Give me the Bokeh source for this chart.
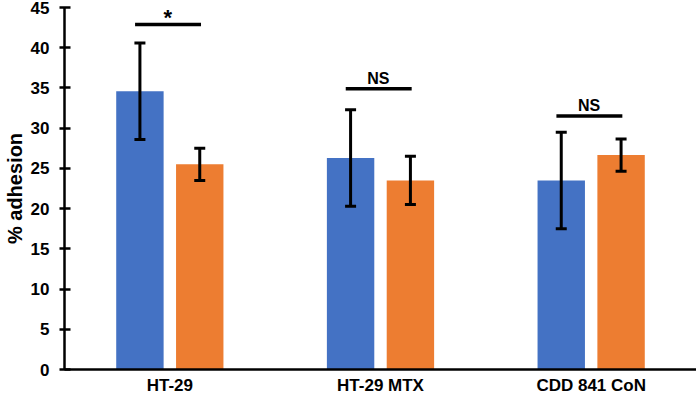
from bokeh.plotting import figure
from bokeh.models import FactorRange, ColumnDataSource, Whisker, TeeHead
from bokeh.transform import dodge
from bokeh.embed import file_html
from bokeh.resources import INLINE
from bokeh.core.properties import value

categories = ["HT-29", "HT-29 MTX", "CDD 841 CoN"]
series_a = [34.6, 26.3, 23.5]
series_a_err = [6.0, 6.0, 6.0]
series_b = [25.5, 23.5, 26.65]
series_b_err = [2.0, 3.0, 2.0]
sig_labels = ["*", "NS", "NS"]
sig_heights = [42.9, 34.9, 31.5]
y_ticks = [0, 5, 10, 15, 20, 25, 30, 35, 40, 45]

FONT = "Liberation Sans"
BLUE = "#4472C4"
ORANGE = "#ED7D31"
OFF = 0.142
BW = 0.225

src = ColumnDataSource(dict(
    cat=categories,
    a=series_a,
    a_up=[v + e for v, e in zip(series_a, series_a_err)],
    a_lo=[v - e for v, e in zip(series_a, series_a_err)],
    b=series_b,
    b_up=[v + e for v, e in zip(series_b, series_b_err)],
    b_lo=[v - e for v, e in zip(series_b, series_b_err)],
    sig=sig_labels,
    sh=sig_heights,
    fs=["22px" if s == "*" else "16px" for s in sig_labels],
    yo=[6 if s == "*" else -2 for s in sig_labels],
))

p = figure(width=696, height=397, x_range=FactorRange(factors=categories, range_padding=0),
           y_range=(0, 45), output_backend="svg", toolbar_location=None,
           min_border_left=0, min_border_right=0, min_border_top=7, min_border_bottom=0)
p.outline_line_color = None
p.xgrid.grid_line_color = None
p.ygrid.grid_line_color = None

p.vbar(x=dodge("cat", -OFF, range=p.x_range), top="a", width=BW, source=src,
       fill_color=BLUE, line_color=None)
p.vbar(x=dodge("cat", OFF, range=p.x_range), top="b", width=BW, source=src,
       fill_color=ORANGE, line_color=None)

for up, lo, off in (("a_up", "a_lo", -OFF), ("b_up", "b_lo", OFF)):
    w = Whisker(base=dodge("cat", off, range=p.x_range), upper=up, lower=lo, source=src,
                line_color="black", line_width=3, level="overlay",
                upper_head=TeeHead(size=11, line_width=3, line_color="black"),
                lower_head=TeeHead(size=11, line_width=3, line_color="black"))
    p.add_layout(w)

p.segment(x0=dodge("cat", -0.165, range=p.x_range), x1=dodge("cat", 0.148, range=p.x_range),
          y0="sh", y1="sh", source=src, line_color="black", line_width=3.5)
p.text(x=dodge("cat", -0.01, range=p.x_range), y="sh", text="sig", source=src,
       y_offset="yo", text_font_size="fs",
       text_align="center", text_baseline="bottom", text_font=value(FONT),
       text_font_style="bold", text_color="black")

p.yaxis.ticker = y_ticks
p.yaxis.axis_line_width = 2.5
p.yaxis.major_tick_line_width = 2.5
p.yaxis.major_tick_in = 6
p.yaxis.major_tick_out = 5
p.yaxis.minor_tick_line_color = None
p.yaxis.major_label_text_font = FONT
p.yaxis.major_label_text_font_style = "bold"
p.yaxis.major_label_text_font_size = "17px"
p.yaxis.major_label_text_color = "black"
p.yaxis.major_label_standoff = 10
p.yaxis.axis_label = "% adhesion"
p.yaxis.axis_label_text_font = FONT
p.yaxis.axis_label_text_font_style = "bold"
p.yaxis.axis_label_text_font_size = "20px"
p.yaxis.axis_label_text_color = "black"
p.yaxis.axis_label_standoff = 2

p.xaxis.axis_line_width = 2.5
p.xaxis.major_tick_line_color = None
p.xaxis.minor_tick_line_color = None
p.xaxis.major_label_text_font = FONT
p.xaxis.major_label_text_font_style = "bold"
p.xaxis.major_label_text_font_size = "17px"
p.xaxis.major_label_text_baseline = "middle"
p.xaxis.major_label_text_color = "black"
p.xaxis.major_label_standoff = 0

open("out.html", "w").write(file_html(p, INLINE))
